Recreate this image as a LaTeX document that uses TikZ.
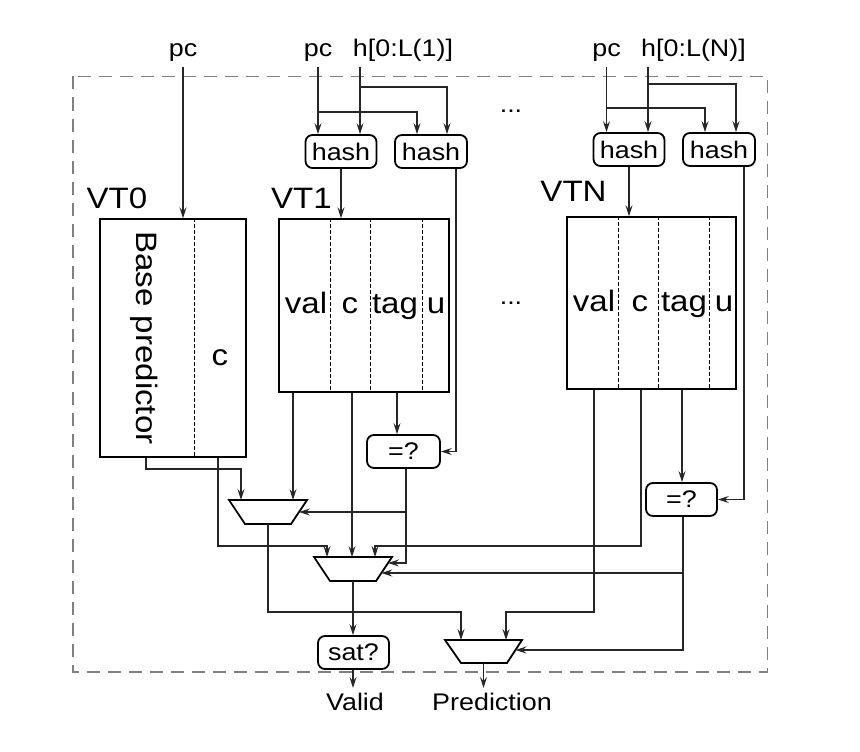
\documentclass[tikz,border=0pt]{standalone}
\usepackage{fontspec}
\setmainfont[FakeStretch=1.12]{Liberation Sans}
\usetikzlibrary{arrows.meta}
\newcommand\smallf{\fontsize{24}{28}\selectfont}
\newcommand\bigf{\fontsize{29.5}{34}\selectfont}
\tikzset{
  wire/.style={line width=1.2pt, draw=black!85},
  arr/.style={wire, -{Stealth[length=11pt,width=7pt,inset=4pt]}},
  rbox/.style={draw, line width=1.8pt, rounded corners=7pt, minimum height=33pt, inner sep=0pt, font=\smallf},
  tbl/.style={draw, line width=1.4pt, inner sep=0pt},
  divider/.style={line width=1pt, dash pattern=on 4pt off 2pt},
  frame/.style={draw=black!50, line width=1.3pt, dash pattern=on 13pt off 8pt},
  lbl/.style={font=\smallf, inner sep=0pt, anchor=base},
  big/.style={font=\bigf, inner sep=0pt, anchor=base},
  muxs/.style={draw, line width=1.8pt, line join=miter}
}
\begin{document}
\begin{tikzpicture}[x=1pt,y=-1pt]
\useasboundingbox (0,0) rectangle (860,752);
% frame
\draw[frame] (73,76.5) rectangle (767.5,672);

% top labels
\node[lbl] (pc0) at (183,57) {pc};
\node[lbl] (pc1) at (318,57) {pc};
\node[lbl] (h1) at (403,57) {h[0:L(1)]};
\node[lbl] (pcN) at (606.5,57) {pc};
\node[lbl] (hN) at (693.5,57) {h[0:L(N)]};
\node[lbl] (dots1) at (511,113) {...};
\node[lbl] (dots2) at (511,304) {...};

% hash boxes
\node[rbox, minimum width=71pt] (hash1) at (341,151.5) {hash};
\node[rbox, minimum width=72pt] (hash2) at (431,151.5) {hash};
\node[rbox, minimum width=71pt] (hash3) at (629,149.5) {hash};
\node[rbox, minimum width=72pt] (hash4) at (719,149.5) {hash};

% tables
\node[tbl, minimum width=146pt, minimum height=238pt] (vt0) at (173,338) {};
\node[tbl, minimum width=170pt, minimum height=173pt] (vt1) at (364,305.5) {};
\node[tbl, minimum width=169pt, minimum height=172pt] (vtN) at (651.5,303) {};

\draw[divider] (vt0.north -| 194,0) -- (vt0.south -| 194,0);
\draw[divider] (vt1.north -| 330,0) -- (vt1.south -| 330,0);
\draw[divider] (vt1.north -| 370,0) -- (vt1.south -| 370,0);
\draw[divider] (vt1.north -| 422,0) -- (vt1.south -| 422,0);
\draw[divider] (vtN.north -| 618,0) -- (vtN.south -| 618,0);
\draw[divider] (vtN.north -| 658,0) -- (vtN.south -| 658,0);
\draw[divider] (vtN.north -| 709,0) -- (vtN.south -| 709,0);

\node[big] (vt0l) at (117,208) {VT0};
\node[big] (vt1l) at (301.5,208) {VT1};
\node[big] (vtNl) at (573.5,201.5) {VTN};

\node[big, anchor=center, rotate=-90] (bpl) at (144,338) {Base predictor};
\node[big] (c0l) at (220,365) {c};
\node[big] (val1) at (306,313) {val};
\node[big] (c1l) at (350,313) {c};
\node[big] (tag1) at (395,313) {tag};
\node[big] (u1) at (436,313) {u};
\node[big] (valN) at (594,311) {val};
\node[big] (cNl) at (640,311) {c};
\node[big] (tagN) at (684,311) {tag};
\node[big] (uN) at (724,311) {u};

% comparators and sat
\node[rbox, minimum width=73pt] (eq1) at (403.5,451.5) {=?};
\node[rbox, minimum width=71pt] (eqN) at (681.5,499.5) {=?};
\node[rbox, minimum width=71pt] (sat) at (353.5,652.5) {sat?};

% muxes
\coordinate (mux1) at (268,512);
\coordinate (mux2) at (353,569);
\coordinate (mux3) at (483.5,651.5);
\draw[muxs] (229,500) -- (307,500) -- (291,524) -- (245,524) -- cycle;
\draw[muxs] (314,557) -- (392,557) -- (376,581) -- (330,581) -- cycle;
\draw[muxs] (445,640) -- (522,640) -- (507,663) -- (461,663) -- cycle;

% outputs
\node[lbl] (valid) at (355,710) {Valid};
\node[lbl] (pred) at (492,710) {Prediction};

% VT0 input
\draw[arr] ([yshift=-5pt]pc0.south) -- (vt0.north -| pc0.south);

% VT1 inputs
\coordinate (h1s) at (360,67);
\coordinate (hNs) at (648,67);
\draw[arr] ([yshift=-5pt]pc1.south) -- (hash1.north -| pc1.south);
\draw[arr] (pc1.south |- 0,112) -| ([xshift=-14pt]hash2.north);
\draw[arr] (h1s) -- (h1s |- hash1.north);
\draw[arr] (h1s |- 0,87) -| ([xshift=16pt]hash2.north);
\draw[arr] (hash1.south) -- (vt1.north -| hash1.south);
\draw[arr] ([xshift=25pt]hash2.south) |- (eq1.east);

% VTN inputs
\draw[arr] ([yshift=-5pt]pcN.south) -- (hash3.north -| pcN.south);
\draw[arr] (pcN.south |- 0,108) -| ([xshift=-14pt]hash4.north);
\draw[arr] (hNs) -- (hNs |- hash3.north);
\draw[arr] (hNs |- 0,84) -| ([xshift=17pt]hash4.north);
\draw[arr] (hash3.south) -- (vtN.north -| hash3.south);
\draw[arr] ([xshift=25pt]hash4.south) |- (eqN.east);

% tag compare
\draw[arr] (vt1.south -| 397,0) -- (eq1.north -| 397,0);
\draw[arr] (vtN.south -| 682,0) -- (eqN.north -| 682,0);

% mux1 inputs
\draw[arr] (vt0.south -| 146,0) |- (241,469) -- (241,500);
\draw[arr] (vt1.south -| 293,0) -- (293,500);
\draw[arr] ([xshift=2.5pt]eq1.south) |- (388,563);
\draw[arr] (406,512) -- (299,512);

% mux2 inputs
\draw[arr] (vt0.south -| 218,0) |- (327,546) -- (327,557);
\draw[arr] (vt1.south -| 352,0) -- (352,557);
\draw[arr] (vtN.south -| 641,0) |- (375,546) -- (375,557);
\draw[arr] ([xshift=1.5pt]eqN.south) |- (515.5,650);
\draw[arr] (683,573) -- (381.3,573);

% mux3 inputs
\draw[arr] (mux1 |- 0,524) |- (461,612) -- (461,640);
\draw[arr] (vtN.south -| 594,0) |- (506,612) -- (506,640);

% outputs
\draw[arr] (mux2 |- 0,581) -- (sat.north -| mux2);
\draw[arr] (sat.south -| mux2) -- (mux2 |- 0,688);
\draw[arr] (mux3 |- 0,663) -- (mux3 |- 0,688);
\end{tikzpicture}
\end{document}
